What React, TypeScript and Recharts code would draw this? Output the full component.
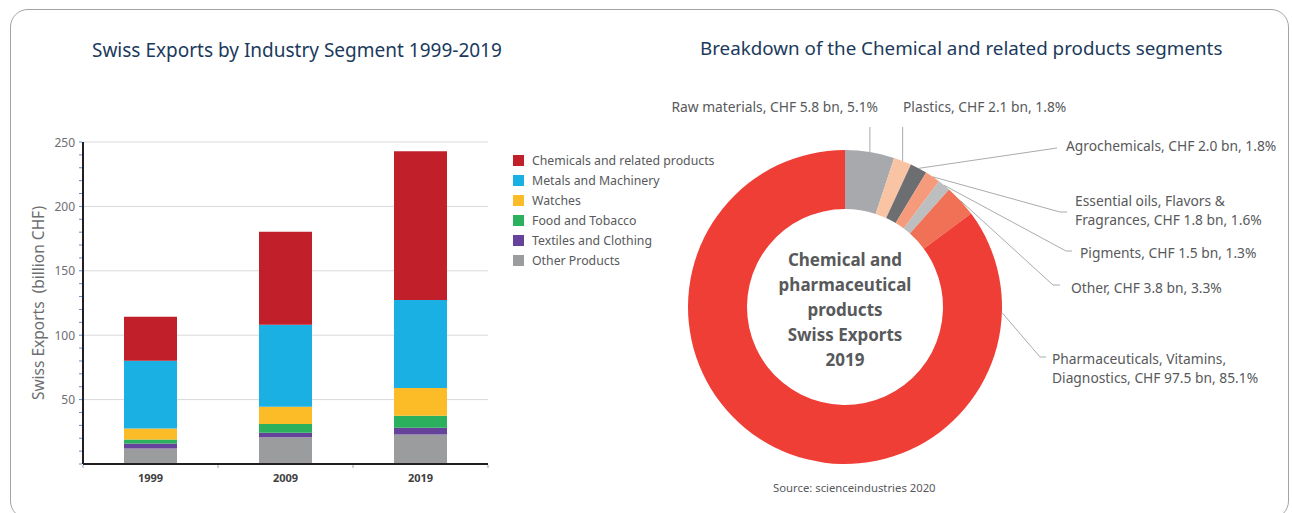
import React from 'react';
import { BarChart, Bar, XAxis, YAxis, CartesianGrid, PieChart, Pie, Cell } from 'recharts';

// ---------- Data: bar chart (billion CHF) ----------
const CATEGORIES = ['1999', '2009', '2019'];
const OTHER_PRODUCTS = [12.0, 20.7, 23.0];
const TEXTILES = [4.0, 3.6, 5.2];
const FOOD = [3.0, 6.8, 9.3];
const WATCHES = [8.5, 13.4, 21.5];
const METALS = [52.6, 63.7, 68.3];
const CHEMICALS = [34.2, 72.2, 115.5];

const Y_LABEL_TICKS = [50, 100, 150, 200, 250];
const Y_MINOR_TICKS = [0, 10, 20, 30, 40, 50, 60, 70, 80, 90, 100, 110, 120, 130, 140, 150, 160, 170, 180, 190, 200, 210, 220, 230, 240, 250];

// stacking order: bottom -> top
const SERIES = [
  { key: 'other', name: 'Other Products', values: OTHER_PRODUCTS, color: '#9b9c9e' },
  { key: 'textiles', name: 'Textiles and Clothing', values: TEXTILES, color: '#65439a' },
  { key: 'food', name: 'Food and Tobacco', values: FOOD, color: '#2bb15d' },
  { key: 'watches', name: 'Watches', values: WATCHES, color: '#fbbc28' },
  { key: 'metals', name: 'Metals and Machinery', values: METALS, color: '#1bb0e3' },
  { key: 'chemicals', name: 'Chemicals and related products', values: CHEMICALS, color: '#c1202a' },
];

// ---------- Data: donut (2019, CHF bn) ----------
const PIE_NAMES = ['Raw materials', 'Plastics', 'Agrochemicals', 'Essential oils, Flavors & Fragrances', 'Pigments', 'Other', 'Pharmaceuticals, Vitamins, Diagnostics'];
const PIE_VALUES = [5.8, 2.1, 2.0, 1.8, 1.5, 3.8, 97.5];
const PIE_LABEL_LINES = [
  ['Raw materials, CHF 5.8 bn, 5.1%'],
  ['Plastics, CHF 2.1 bn, 1.8%'],
  ['Agrochemicals, CHF 2.0 bn, 1.8%'],
  ['Essential oils, Flavors &', 'Fragrances, CHF 1.8 bn, 1.6%'],
  ['Pigments, CHF 1.5 bn, 1.3%'],
  ['Other, CHF 3.8 bn, 3.3%'],
  ['Pharmaceuticals, Vitamins,', 'Diagnostics, CHF 97.5 bn, 85.1%'],
];
const PIE_COLORS = ['#a7a9ac', '#f9c4a4', '#6d6e71', '#f59b7c', '#bcbec0', '#f07155', '#ef3e36'];
const CENTER_LINES = ['Chemical and', 'pharmaceutical', 'products', 'Swiss Exports', '2019'];

// ---------- Layout ----------
const FONT = '"Noto Sans", "DejaVu Sans", sans-serif';
const PAGE_W = 1292;
const PAGE_H = 513;
const BAR_CHART_W = 740;
const PLOT = { left: 83, right: 488, top: 142, bottom: 464 };
const Y_AXIS_W = 60;
const X_AXIS_H = 30;
const PIE_GEOM = { cx: 845, cy: 307, inner: 98, outer: 157 };

// leader-line / label placement (annotation layout)
const PIE_LABEL_LAYOUT: any[] = [
  { ey: 127, tx: 878, ty: 106, anchor: 'end' },
  { ey: 127, tx: 903, ty: 106, anchor: 'start' },
  { ex: 1057, ey: 148, tx: 1066, ty: 145, anchor: 'start' },
  { ex: 1060, ey: 212, hx: 1067, tx: 1075, ty: 200, anchor: 'start' },
  { ex: 1066, ey: 251, hx: 1072, tx: 1080, ty: 252, anchor: 'start' },
  { ex: 1053, ey: 285, hx: 1060, tx: 1071, ty: 287, anchor: 'start' },
  { angle: -2, ex: 1040, ey: 357, hx: 1046, tx: 1052, ty: 358, anchor: 'start' },
];

const barData = CATEGORIES.map((year, i) => {
  const row: any = { year };
  SERIES.forEach((s) => (row[s.key] = s.values[i]));
  return row;
});

const pieData = PIE_NAMES.map((name, i) => ({ name, value: PIE_VALUES[i] }));

const YTick = (p: any) => {
  const v = p.payload.value;
  const y = p.y;
  return (
    <g>
      <line x1={PLOT.left - 4} x2={PLOT.left - 1} y1={y} y2={y} stroke="#5b8fd0" strokeWidth={1} />
      {v > 0 && Y_LABEL_TICKS.includes(v) && (
        <text x={PLOT.left - 8} y={y} textAnchor="end" dominantBaseline="central" fontSize={12} fill="#6d6e71" fontFamily={FONT}>
          {v}
        </text>
      )}
    </g>
  );
};

const XTick = (p: any) => {
  const band = (PLOT.right - PLOT.left) / CATEGORIES.length;
  return (
    <g>
      <text x={p.x} y={PLOT.bottom + 13} textAnchor="middle" dominantBaseline="central" fontSize={11} fontWeight="bold" fill="#404041" fontFamily={FONT}>
        {p.payload.value}
      </text>
      <line x1={p.x + band / 2} x2={p.x + band / 2} y1={PLOT.bottom + 1} y2={PLOT.bottom + 4} stroke="#a0a0a0" />
      {p.index === 0 && <line x1={p.x - band / 2} x2={p.x - band / 2} y1={PLOT.bottom + 1} y2={PLOT.bottom + 4} stroke="#a0a0a0" />}
    </g>
  );
};

const renderPieLabel = (props: any) => {
  const { cx, cy, midAngle, outerRadius, index } = props;
  const lay = PIE_LABEL_LAYOUT[index];
  const a = ((lay.angle ?? midAngle) * Math.PI) / 180;
  const sx = cx + outerRadius * Math.cos(a);
  const sy = cy - outerRadius * Math.sin(a);
  const pts: number[][] = [[sx, sy], [lay.ex ?? sx, lay.ey]];
  if (lay.hx) pts.push([lay.hx, lay.ey]);
  return (
    <g key={`lbl-${index}`}>
      <polyline points={pts.map((q) => q.join(',')).join(' ')} fill="none" stroke="#9fa1a4" strokeWidth={0.9} />
      {PIE_LABEL_LINES[index].map((ln, i) => (
        <text key={i} x={lay.tx} y={lay.ty + i * 19} textAnchor={lay.anchor} dominantBaseline="central" fontSize={13.8} fill="#58595b" fontFamily={FONT}>
          {ln}
        </text>
      ))}
    </g>
  );
};

export default function App() {
  return (
    <div style={{ position: 'absolute', left: 0, top: 0, width: PAGE_W, height: PAGE_H, background: '#fff', fontFamily: FONT, overflow: 'hidden' }}>
      <div style={{ position: 'absolute', left: 10, top: 9, width: 1279, height: 510, border: '1px solid #a3a3a3', borderRadius: 18, boxSizing: 'border-box' }} />

      <div style={{ position: 'absolute', left: 92, top: 38, fontSize: 19, lineHeight: '24px', color: '#1b3a5c', whiteSpace: 'nowrap' }}>
        Swiss Exports by Industry Segment 1999-2019
      </div>
      <div style={{ position: 'absolute', left: 700, top: 36, fontSize: 18.8, lineHeight: '24px', color: '#1b3a5c', whiteSpace: 'nowrap' }}>
        Breakdown of the Chemical and related products segments
      </div>

      <div style={{ position: 'absolute', left: 0, top: 0 }}>
        <BarChart
          width={BAR_CHART_W}
          height={PAGE_H}
          data={barData}
          margin={{ top: PLOT.top, bottom: PAGE_H - PLOT.bottom - X_AXIS_H, left: PLOT.left - Y_AXIS_W, right: BAR_CHART_W - PLOT.right }}
        >
          <CartesianGrid vertical={false} horizontalValues={Y_LABEL_TICKS} stroke="#d9d9d9" strokeWidth={1} />
          <XAxis dataKey="year" height={X_AXIS_H} axisLine={{ stroke: '#231f20', strokeWidth: 2 }} tickLine={false} tick={<XTick />} interval={0} />
          <YAxis
            width={Y_AXIS_W}
            domain={[0, 250]}
            ticks={Y_MINOR_TICKS}
            interval={0}
            allowDataOverflow
            axisLine={{ stroke: '#231f20', strokeWidth: 2 }}
            tickLine={false}
            tick={<YTick />}
            label={{ value: 'Swiss Exports\u00A0\u00A0(billion CHF)', angle: -90, position: 'insideLeft', offset: 15, style: { textAnchor: 'middle', fontSize: 15.5, fill: '#6d6e71', fontFamily: FONT } }}
          />
          {SERIES.map((s) => (
            <Bar key={s.key} dataKey={s.key} name={s.name} stackId="a" fill={s.color} barSize={53} isAnimationActive={false} />
          ))}
        </BarChart>
      </div>

      <div style={{ position: 'absolute', left: 513, top: 150 }}>
        {[...SERIES].reverse().map((s) => (
          <div key={s.key} style={{ display: 'flex', alignItems: 'center', height: 20 }}>
            <div style={{ width: 11, height: 11, background: s.color, marginRight: 8 }} />
            <span style={{ fontSize: 12.3, color: '#58595b', whiteSpace: 'nowrap' }}>{s.name}</span>
          </div>
        ))}
      </div>

      <div style={{ position: 'absolute', left: 0, top: 0 }}>
        <PieChart width={PAGE_W} height={PAGE_H} margin={{ top: 0, left: 0, right: 0, bottom: 0 }}>
          <Pie
            data={pieData}
            dataKey="value"
            nameKey="name"
            cx={PIE_GEOM.cx}
            cy={PIE_GEOM.cy}
            innerRadius={PIE_GEOM.inner}
            outerRadius={PIE_GEOM.outer}
            startAngle={90}
            endAngle={-270}
            stroke="none"
            label={renderPieLabel}
            labelLine={false}
            isAnimationActive={false}
          >
            {pieData.map((d, i) => (
              <Cell key={d.name} fill={PIE_COLORS[i]} />
            ))}
          </Pie>
        </PieChart>
      </div>

      <div style={{ position: 'absolute', left: PIE_GEOM.cx - 100, top: 247, width: 200, textAlign: 'center', fontWeight: 'bold', fontSize: 17, lineHeight: '25px', color: '#58595b' }}>
        {CENTER_LINES.map((l) => (
          <div key={l}>{l}</div>
        ))}
      </div>

      <div style={{ position: 'absolute', left: 773, top: 481, fontSize: 11.3, lineHeight: '14px', color: '#58595b', whiteSpace: 'nowrap' }}>
        Source: scienceindustries 2020
      </div>
    </div>
  );
}
